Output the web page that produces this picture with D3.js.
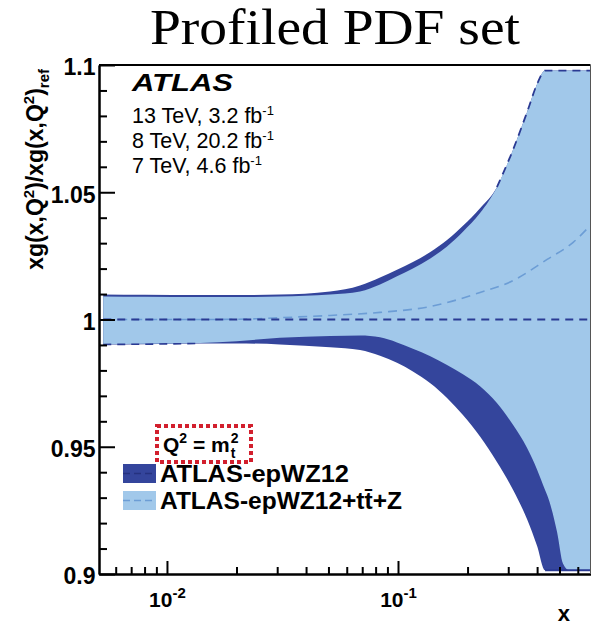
<!DOCTYPE html>
<html><head><meta charset="utf-8">
<script src="https://cdn.jsdelivr.net/npm/d3@7"></script>
<style>
body{margin:0;background:#fff}
svg{display:block}
text{font-family:"Liberation Sans",Arial,Helvetica,sans-serif}
</style>
</head><body>
<svg id="c" width="592" height="625"></svg>
<script>
// ---------------- data ----------------
const bandX   = [0.0053,0.008,0.0139,0.02,0.0308,0.0508,0.0685,0.0836,0.099,0.116,0.138,0.163,0.191,0.2265,0.268,0.315,0.362,0.400,0.433,0.442,0.488,0.518,0.55,0.60,0.68];
// ATLAS-epWZ12 (reference) band
const refUp   = [1.0098,1.0097,1.0096,1.0096,1.0098,1.0110,1.0134,1.0165,1.0195,1.0226,1.0265,1.0312,1.0368,1.0437,1.0520,1.0668,1.0815,1.0925,1.0978,1.0978,1.0978,1.0978,1.0978,1.0978,1.0978];
const refLo   = [0.9902,0.9903,0.9906,0.9906,0.9902,0.9891,0.9880,0.9858,0.9830,0.9796,0.9750,0.9692,0.9625,0.9540,0.9440,0.9330,0.9215,0.9110,0.9015,0.9015,0.9015,0.9015,0.9015,0.9015,0.9015];
// ATLAS-epWZ12+ttbar+Z band
const newUp   = [1.0090,1.0089,1.0088,1.0088,1.0090,1.0098,1.0110,1.0138,1.0170,1.0200,1.0240,1.0287,1.0345,1.0418,1.0520,1.0668,1.0815,1.0925,1.0978,1.0978,1.0978,1.0978,1.0978,1.0978,1.0978];
const newLo   = [0.9903,0.9905,0.9908,0.9915,0.9928,0.9935,0.9937,0.9930,0.9910,0.9885,0.9856,0.9821,0.9785,0.9738,0.9672,0.9585,0.9495,0.9410,0.9330,0.9310,0.9165,0.9040,0.9015,0.9015,0.9015];
// central values
const refCentralX = [0.0053,0.68];
const refCentralV = [1.0,1.0];
const newCentralX = [0.0053,0.015,0.0245,0.0308,0.0508,0.0836,0.138,0.2265,0.315,0.442,0.573,0.68];
const newCentralV = [1.0000,1.0000,1.0003,1.0007,1.0016,1.0028,1.0051,1.0106,1.0153,1.0236,1.0303,1.0370];

const yMajor = [0.9,0.95,1,1.05,1.1];
const yMajorLabels = ["0.9","0.95","1","1.05","1.1"];
const yMinor = [0.91,0.92,0.93,0.94,0.96,0.97,0.98,0.99,1.01,1.02,1.03,1.04,1.06,1.07,1.08,1.09];
const xMajor = [0.01,0.1];
const xMajorExp = ["-2","-1"];
const xMinor = [0.006,0.007,0.008,0.009,0.02,0.03,0.04,0.05,0.06,0.07,0.08,0.09,0.2,0.3,0.4,0.5,0.6];

const title = "Profiled PDF set";
const lumiText = ["13 TeV, 3.2 fb","8 TeV, 20.2 fb","7 TeV, 4.6 fb"];
const lumiExp = ["-1","-1","-1"];
const legendLabels = ["ATLAS-epWZ12","ATLAS-epWZ12+tt\u0304+Z"];

// ---------------- styles ----------------
const DARK = "#34459c", DARK_LINE = "#2a3a93";
const LIGHT = "#a1c8ea", LIGHT_LINE = "#6c9dd5";
const RED = "#d21f2d";

const svg = d3.select("#c");
const L = 99, R = 590.5, T = 65, B = 574;
const x = d3.scaleLog().domain([0.00508, 0.681]).range([L, R]);
const y = d3.scaleLinear().domain([0.9, 1.1]).range([B, T]);

svg.append("defs").append("clipPath").attr("id","pc")
  .append("rect").attr("x",L).attr("y",T).attr("width",R-L).attr("height",B-T);

const plot = svg.append("g").attr("clip-path","url(#pc)");
const rows = (up, lo) => bandX.map((d,i)=>({x:d, up:up[i], lo:lo[i]}));
const area = d3.area().x(d=>x(d.x)).y0(d=>y(d.lo)).y1(d=>y(d.up)).curve(d3.curveMonotoneX);
const edge = (k) => d3.line().x(d=>x(d.x)).y(d=>y(d[k])).curve(d3.curveMonotoneX);

const refRows = rows(refUp, refLo), newRows = rows(newUp, newLo);
plot.append("path").attr("d", area(refRows)).attr("fill", DARK);
plot.append("path").attr("d", area(newRows)).attr("fill", LIGHT);

const cline = d3.line().x(d=>x(d[0])).y(d=>y(d[1])).curve(d3.curveMonotoneX);
plot.append("path").attr("d", cline(newCentralX.map((d,i)=>[d,newCentralV[i]])))
  .attr("fill","none").attr("stroke",LIGHT_LINE).attr("stroke-width",1.6).attr("stroke-dasharray","9,6");
plot.append("path").attr("d", cline(refCentralX.map((d,i)=>[d,refCentralV[i]])))
  .attr("fill","none").attr("stroke",DARK_LINE).attr("stroke-width",2).attr("stroke-dasharray","8,6");
// dashed boundaries of the reference band where they lie on the light band edge
plot.append("path").attr("d", edge("up")(refRows.filter(d=>d.x>=0.268))).attr("fill","none")
  .attr("stroke",DARK_LINE).attr("stroke-width",1.8).attr("stroke-dasharray","8,6");
plot.append("path").attr("d", edge("lo")(refRows.filter(d=>d.x<=0.0139))).attr("fill","none")
  .attr("stroke",DARK_LINE).attr("stroke-width",1.6).attr("stroke-dasharray","8,6");
plot.append("path").attr("d", edge("lo")(refRows.filter(d=>d.x>=0.433))).attr("fill","none")
  .attr("stroke",DARK_LINE).attr("stroke-width",2);

// ---------------- axes ----------------
const styleAxis = g => { g.selectAll("path,line").attr("stroke","#000").attr("stroke-width",2); };

const gyMinor = svg.append("g").attr("transform",`translate(${L},0)`)
  .call(d3.axisLeft(y).tickValues(yMinor).tickSizeInner(-8).tickSizeOuter(0).tickFormat(""));
gyMinor.selectAll("text").remove(); styleAxis(gyMinor);
const gy = svg.append("g").attr("transform",`translate(${L},0)`)
  .call(d3.axisLeft(y).tickValues(yMajor).tickSizeInner(-16).tickSizeOuter(0).tickPadding(3.5)
    .tickFormat((d,i)=>yMajorLabels[i]));
styleAxis(gy);
gy.selectAll("text").attr("font-size",23).attr("font-weight","bold").attr("fill","#000").attr("dy","0.43em");

const gxMinor = svg.append("g").attr("transform",`translate(0,${B})`)
  .call(d3.axisBottom(x).tickValues(xMinor).tickSizeInner(-7).tickSizeOuter(0).tickFormat(""));
gxMinor.selectAll("text").remove(); styleAxis(gxMinor);
const gx = svg.append("g").attr("transform",`translate(0,${B})`)
  .call(d3.axisBottom(x).tickValues(xMajor).tickSizeInner(-13).tickSizeOuter(0).tickFormat(""));
gx.selectAll("text").remove(); styleAxis(gx);
gx.selectAll(".tick").each(function(d,i){
  const t = d3.select(this).append("text").attr("y",33).attr("text-anchor","middle")
    .attr("font-size",21).attr("font-weight","bold").attr("fill","#000");
  t.append("tspan").text("10");
  t.append("tspan").attr("dy",-9).attr("font-size",15).text(xMajorExp[i]);
});

// frame
svg.append("line").attr("x1",L).attr("x2",R).attr("y1",T).attr("y2",T).attr("stroke","#000").attr("stroke-width",2);
svg.append("line").attr("x1",R).attr("x2",R).attr("y1",T).attr("y2",B).attr("stroke","#555").attr("stroke-width",1);

// axis titles
svg.append("text").attr("x",570).attr("y",621).attr("text-anchor","end")
  .attr("font-size",22).attr("font-weight","bold").text("x");
const yt = svg.append("text").attr("transform","translate(43,69) rotate(-90)")
  .attr("text-anchor","end").attr("font-size",23).attr("font-weight","bold");
yt.append("tspan").text("xg(x,Q");
yt.append("tspan").attr("dy",-9).attr("font-size",15).text("2");
yt.append("tspan").attr("dy",9).text(")/xg(x,Q");
yt.append("tspan").attr("dy",-9).attr("font-size",15).text("2");
yt.append("tspan").attr("dy",9).text(")");
yt.append("tspan").attr("dy",6).attr("font-size",15).text("ref");

// title
svg.append("text").attr("x",150).attr("y",44)
  .style("font-family","'Liberation Serif','Times New Roman',Times,serif").attr("font-size",50)
  .attr("textLength",370).attr("lengthAdjust","spacingAndGlyphs").text(title);

// ATLAS label
svg.append("text").attr("x",132).attr("y",91).attr("font-size",24)
  .attr("font-weight","bold").attr("font-style","italic")
  .attr("textLength",101).attr("lengthAdjust","spacingAndGlyphs").text("ATLAS");
lumiText.forEach((s,i)=>{
  const t = svg.append("text").attr("x",132).attr("y",123+25*i).attr("font-size",21.5);
  t.append("tspan").text(s);
  t.append("tspan").attr("dy",-8).attr("font-size",13).text(lumiExp[i]);
});

// legend
svg.append("rect").attr("x",157).attr("y",426).attr("width",94).attr("height",36)
  .attr("fill","none").attr("stroke",RED).attr("stroke-width",4).attr("stroke-dasharray","4,3");
const q = svg.append("text").attr("x",163).attr("y",452).attr("font-size",21).attr("font-weight","bold");
q.append("tspan").text("Q");
q.append("tspan").attr("dy",-9).attr("font-size",14).text("2");
q.append("tspan").attr("dy",9).text(" = m");
const qEnd = 163 + q.node().getComputedTextLength() + 1;
svg.append("text").attr("x",qEnd).attr("y",443).attr("font-size",14).attr("font-weight","bold").text("2");
svg.append("text").attr("x",qEnd).attr("y",458).attr("font-size",14).attr("font-weight","bold").text("t");

const legFill = [DARK, LIGHT], legLine = [DARK_LINE, LIGHT_LINE];
legendLabels.forEach((s,i)=>{
  const y0 = 464 + 27*i;
  svg.append("rect").attr("x",123).attr("y",y0).attr("width",33).attr("height",19).attr("fill",legFill[i]);
  svg.append("line").attr("x1",123).attr("x2",156).attr("y1",y0+9.5).attr("y2",y0+9.5)
    .attr("stroke",i===0?"#25327f":legLine[i]).attr("stroke-width",1.5).attr("stroke-dasharray","7,4");
  svg.append("text").attr("x",160).attr("y",y0+18).attr("font-size",24).attr("font-weight","bold")
    .attr("textLength", i===0?189:242).attr("lengthAdjust","spacingAndGlyphs").text(s);
});
</script>
</body></html>
